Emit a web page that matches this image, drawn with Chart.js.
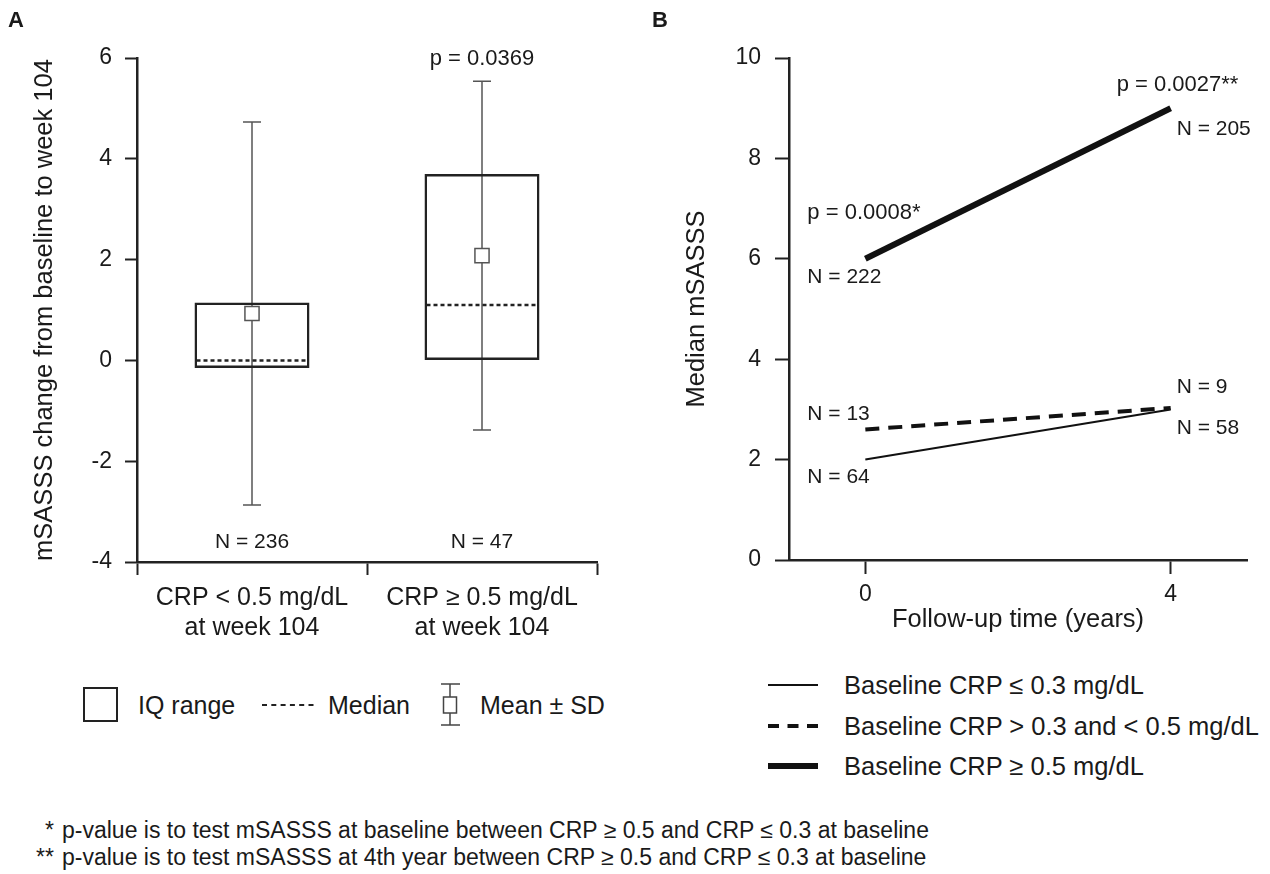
<!DOCTYPE html>
<html>
<head>
<meta charset="utf-8">
<script src="https://cdn.jsdelivr.net/npm/chart.js@4.4.1/dist/chart.umd.min.js"></script>
<style>
  body { margin: 0; background: #fff; }
  #wrap { position: relative; width: 1270px; height: 874px; font-family: 'Liberation Sans', Arial, sans-serif; color: #1a1a1a; }
  canvas { position: absolute; top: 0; }
  .abs { position: absolute; white-space: nowrap; }
  .panel { font-weight: bold; font-size: 22px; line-height: 26px; }
  .leg { font-size: 25px; line-height: 30px; }
  .legb { font-size: 25.5px; line-height: 30px; }
  .foot { font-size: 23px; line-height: 26px; }
</style>
</head>
<body>
<div id="wrap">
  <canvas id="chartA" width="640" height="660" style="left:0"></canvas>
  <canvas id="chartB" width="630" height="660" style="left:640px"></canvas>

  <div class="abs panel" style="left:8px; top:7px">A</div>
  <div class="abs panel" style="left:652px; top:7px">B</div>

  <!-- legend A -->
  <div class="abs" style="left:83px; top:687px; width:35px; height:35px; border:2.5px solid #222; box-sizing:border-box"></div>
  <div class="abs leg" style="left:138px; top:690px">IQ range</div>
  <svg class="abs" style="left:262px; top:695px" width="54" height="20">
    <line x1="0" y1="10" x2="52" y2="10" stroke="#222" stroke-width="2" stroke-dasharray="5,4.3"/>
  </svg>
  <div class="abs leg" style="left:328px; top:690px">Median</div>
  <svg class="abs" style="left:438px; top:682px" width="26" height="46">
    <line x1="12" y1="2" x2="12" y2="43" stroke="#444" stroke-width="1.5"/>
    <line x1="3" y1="2" x2="22" y2="2" stroke="#444" stroke-width="1.5"/>
    <line x1="3" y1="43" x2="22" y2="43" stroke="#444" stroke-width="1.5"/>
    <rect x="5.5" y="15" width="13" height="16" fill="#fff" stroke="#444" stroke-width="1.5"/>
  </svg>
  <div class="abs leg" style="left:480px; top:690px">Mean &plusmn; SD</div>

  <!-- legend B -->
  <svg class="abs" style="left:766px; top:670px" width="56" height="110">
    <line x1="2" y1="15" x2="52" y2="15" stroke="#111" stroke-width="2"/>
    <line x1="2" y1="56" x2="52" y2="56" stroke="#111" stroke-width="4" stroke-dasharray="11,8.5"/>
    <line x1="2" y1="96" x2="52" y2="96" stroke="#111" stroke-width="6"/>
  </svg>
  <div id="legB"></div>

  <div class="abs foot" style="left:20px; width:34px; text-align:right; top:817px">*</div>
  <div class="abs foot" style="left:20px; width:34px; text-align:right; top:844px">**</div>
  <div class="abs foot" style="left:62px; top:817px">p-value is to test mSASSS at baseline between CRP &ge; 0.5 and CRP &le; 0.3 at baseline</div>
  <div class="abs foot" style="left:62px; top:844px">p-value is to test mSASSS at 4th year between CRP &ge; 0.5 and CRP &le; 0.3 at baseline</div>
</div>

<script>
// ---- Panel A data ----
const groupLabels = [['CRP < 0.5 mg/dL', 'at week 104'], ['CRP \u2265 0.5 mg/dL', 'at week 104']];
const q1Vals = [-0.15, 0.0];
const q3Vals = [1.15, 3.7];
const medianVals = [0.0, 1.1];
const meanVals = [0.93, 2.08];
const sdVals = [3.8, 3.46];
const groupN = ['N = 236', 'N = 47'];
const pValueA = 'p = 0.0369';
const yTicksA = [-4, -2, 0, 2, 4, 6];

// ---- Panel B data ----
const years = [0, 4];
const crpLow = [2.0, 3.0];    // baseline CRP <= 0.3
const crpMid = [2.6, 3.03];   // 0.3 < CRP < 0.5
const crpHigh = [6.0, 9.0];   // CRP >= 0.5
const nLow = ['N = 64', 'N = 58'];
const nMid = ['N = 13', 'N = 9'];
const nHigh = ['N = 222', 'N = 205'];
const pValuesB = ['p = 0.0008*', 'p = 0.0027**'];
const seriesNames = ['Baseline CRP \u2264 0.3 mg/dL', 'Baseline CRP > 0.3 and < 0.5 mg/dL', 'Baseline CRP \u2265 0.5 mg/dL'];
const yTicksB = [0, 2, 4, 6, 8, 10];
const xTicksB = [0, 4];

const FONT = "'Liberation Sans', Arial, sans-serif";
const INK = '#1a1a1a';
Chart.defaults.font.family = FONT;
Chart.defaults.color = INK;

// legend B text
const legB = document.getElementById('legB');
seriesNames.forEach((name, i) => {
  const d = document.createElement('div');
  d.className = 'abs legb';
  d.style.left = '844px';
  d.style.top = (670 + i * 40.5) + 'px';
  d.textContent = name;
  legB.appendChild(d);
});

// error bars, medians and labels for panel A
const boxExtras = {
  id: 'boxExtras',
  beforeDatasetsDraw(chart) {
    const { ctx, scales: { x, y } } = chart;
    ctx.save();
    ctx.strokeStyle = '#555';
    ctx.lineWidth = 1.5;
    meanVals.forEach((m, i) => {
      const cx = x.getPixelForValue(i);
      const top = y.getPixelForValue(m + sdVals[i]);
      const bot = y.getPixelForValue(m - sdVals[i]);
      ctx.beginPath();
      ctx.moveTo(cx, top); ctx.lineTo(cx, bot);
      ctx.moveTo(cx - 9, top); ctx.lineTo(cx + 9, top);
      ctx.moveTo(cx - 9, bot); ctx.lineTo(cx + 9, bot);
      ctx.stroke();
    });
    ctx.restore();
  },
  afterDatasetsDraw(chart) {
    const { ctx, scales: { y } } = chart;
    const bars = chart.getDatasetMeta(0).data;
    ctx.save();
    ctx.strokeStyle = '#222';
    ctx.lineWidth = 2.5;
    ctx.setLineDash([4, 3]);
    medianVals.forEach((v, i) => {
      const b = bars[i];
      const py = y.getPixelForValue(v);
      ctx.beginPath();
      ctx.moveTo(b.x - b.width / 2 + 2, py);
      ctx.lineTo(b.x + b.width / 2 - 2, py);
      ctx.stroke();
    });
    ctx.restore();
  },
  afterDraw(chart) {
    const { ctx, scales: { x, y } } = chart;
    ctx.save();
    ctx.fillStyle = INK;
    ctx.textAlign = 'center';
    ctx.textBaseline = 'middle';
    ctx.font = '21px ' + FONT;
    groupN.forEach((t, i) => {
      ctx.fillText(t, x.getPixelForValue(i), y.getPixelForValue(y.min) - 20);
    });
    ctx.font = '22px ' + FONT;
    ctx.fillText(pValueA, x.getPixelForValue(1), y.getPixelForValue(meanVals[1] + sdVals[1]) - 22);
    ctx.restore();
  }
};

new Chart(document.getElementById('chartA'), {
  type: 'bar',
  data: {
    labels: groupLabels,
    datasets: [
      {
        label: 'IQ range',
        data: q1Vals.map((v, i) => [v, q3Vals[i]]),
        backgroundColor: 'rgba(0,0,0,0)',
        borderColor: '#222',
        borderWidth: 2.5,
        borderSkipped: false,
        barPercentage: 0.5,
        categoryPercentage: 1.0,
        order: 1
      },
      {
        type: 'line',
        label: 'Mean',
        data: meanVals,
        showLine: false,
        pointStyle: 'rect',
        pointRadius: 10,
        pointBackgroundColor: '#fff',
        pointBorderColor: '#555',
        pointBorderWidth: 1.5,
        order: 0
      }
    ]
  },
  options: {
    responsive: false,
    animation: false,
    devicePixelRatio: 1,
    layout: { padding: { top: 58, right: 43, left: 0, bottom: 0 } },
    plugins: { legend: { display: false }, tooltip: { enabled: false } },
    scales: {
      x: {
        afterFit(s) { s.height = 98; },
        grid: { offset: true, drawOnChartArea: false, tickLength: 13, tickColor: '#222', tickWidth: 2 },
        border: { display: true, color: '#222', width: 2.5 },
        ticks: { color: INK, font: { size: 25 }, padding: 8, maxRotation: 0 }
      },
      y: {
        min: -4, max: 6,
        afterBuildTicks(s) { s.ticks = yTicksA.map(v => ({ value: v })); },
        afterFit(s) { s.width = 137; },
        grid: { drawOnChartArea: false, tickLength: 12, tickColor: '#222', tickWidth: 2 },
        border: { display: true, color: '#222', width: 2.5 },
        ticks: { color: INK, font: { size: 23 }, padding: 13 },
        title: { display: true, text: 'mSASSS change from baseline to week 104', color: INK, font: { size: 25.5 }, padding: { top: 30 } }
      }
    }
  },
  plugins: [boxExtras]
});

// N and p labels for panel B, placed next to the line ends
const lineLabels = {
  id: 'lineLabels',
  afterDraw(chart) {
    const { ctx, scales: { x, y } } = chart;
    const put = (text, xv, yv, dx, dy, size) => {
      ctx.font = size + 'px ' + FONT;
      ctx.fillText(text, x.getPixelForValue(xv) + dx, y.getPixelForValue(yv) + dy);
    };
    ctx.save();
    ctx.fillStyle = INK;
    ctx.textAlign = 'left';
    ctx.textBaseline = 'middle';
    put(nLow[0], years[0], crpLow[0], -58, 18, 21);
    put(nMid[0], years[0], crpMid[0], -58, -15, 21);
    put(nHigh[0], years[0], crpHigh[0], -58, 18, 21);
    put(pValuesB[0], years[0], crpHigh[0], -58, -46, 22);
    put(nLow[1], years[1], crpLow[1], 6, 19, 21);
    put(nMid[1], years[1], crpMid[1], 6, -21, 21);
    put(nHigh[1], years[1], crpHigh[1], 6, 21, 21);
    put(pValuesB[1], years[1], crpHigh[1], -54, -23, 22);
    ctx.restore();
  }
};

const pts = arr => years.map((t, i) => ({ x: t, y: arr[i] }));

new Chart(document.getElementById('chartB'), {
  type: 'line',
  data: {
    datasets: [
      { label: seriesNames[0], data: pts(crpLow), borderColor: '#111', borderWidth: 2, pointRadius: 0 },
      { label: seriesNames[1], data: pts(crpMid), borderColor: '#111', borderWidth: 4, borderDash: [14, 9], pointRadius: 0 },
      { label: seriesNames[2], data: pts(crpHigh), borderColor: '#111', borderWidth: 6, pointRadius: 0 }
    ]
  },
  options: {
    responsive: false,
    animation: false,
    devicePixelRatio: 1,
    layout: { padding: { top: 58, right: 23, left: 0, bottom: 0 } },
    plugins: { legend: { display: false }, tooltip: { enabled: false } },
    scales: {
      x: {
        type: 'linear',
        min: -1, max: 5,
        afterBuildTicks(s) { s.ticks = xTicksB.map(v => ({ value: v })); },
        afterFit(s) { s.height = 100; },
        grid: { drawOnChartArea: false, tickLength: 14, tickColor: '#222', tickWidth: 2 },
        border: { display: true, color: '#222', width: 2.5 },
        ticks: { color: INK, font: { size: 23 }, padding: 7 },
        title: { display: true, text: 'Follow-up time (years)', color: INK, font: { size: 25.5 }, padding: { bottom: 25 } }
      },
      y: {
        min: 0, max: 10,
        afterBuildTicks(s) { s.ticks = yTicksB.map(v => ({ value: v })); },
        afterFit(s) { s.width = 149; },
        grid: { drawOnChartArea: false, tickLength: 14, tickColor: '#222', tickWidth: 2 },
        border: { display: true, color: '#222', width: 2.5 },
        ticks: { color: INK, font: { size: 23 }, padding: 14 },
        title: { display: true, text: 'Median mSASSS', color: INK, font: { size: 25.5 }, padding: { top: 42 } }
      }
    }
  },
  plugins: [lineLabels]
});
</script>
</body>
</html>
